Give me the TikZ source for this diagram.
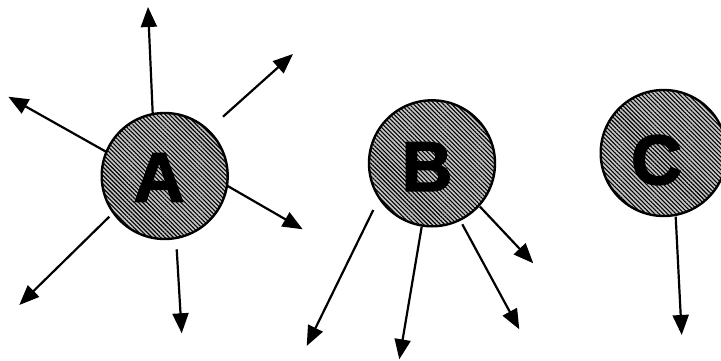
\documentclass[tikz,border=0pt]{standalone}
\usepackage{fontspec}
\newfontfamily\heavyfont{Liberation Sans}[BoldFeatures={FakeBold=2.5}]
\usetikzlibrary{arrows.meta,patterns.meta}
\begin{document}
\begin{tikzpicture}[x=1pt,y=-1pt,
  ball/.style={circle,draw=black,line width=2.4pt,minimum size=126pt,inner sep=0pt,
    preaction={fill=gray!45},
    pattern={Lines[angle=-45,distance=3pt,line width=1.1pt]},pattern color=black},
  letter/.style={inner sep=0pt,anchor=center,text=black,
    font=\heavyfont\bfseries\fontsize{70}{70}\selectfont},
  arr/.style={-{Triangle[length=20pt,width=16pt]},line width=2.2pt}]
\clip (0,0) rectangle (721,361);
\fill[white] (0,0) rectangle (721,361);

% the three bodies
\node[ball] (A) at (164.7,176) {};
\node[ball] (B) at (432,163.3) {};
\node[ball] (C) at (663.7,153) {};
\node[letter] (Aname) at (159,177.5) {A};
\node[letter] (Bname) at (427,166.7) {B};
\node[letter] (Cname) at (656.5,160) {C};

% arrows leaving A
\coordinate (a1s) at (152.7,113.3); \coordinate (a1e) at (148,7);
\coordinate (a2s) at (223,116.7);   \coordinate (a2e) at (293,54);
\coordinate (a3s) at (106,151.7);   \coordinate (a3e) at (8.3,96.7);
\coordinate (a4s) at (227.7,186);   \coordinate (a4e) at (302.7,229.3);
\coordinate (a5s) at (109.3,216.7); \coordinate (a5e) at (19.3,305);
\coordinate (a6s) at (176.7,249.3); \coordinate (a6e) at (181.7,333.3);
\foreach \i in {1,...,6} \draw[arr] (a\i s) -- (a\i e);

% arrows leaving B
\coordinate (b1s) at (373.3,210);   \coordinate (b1e) at (306.7,346);
\coordinate (b2s) at (421.7,226.7); \coordinate (b2e) at (399.3,359.3);
\coordinate (b3s) at (462.3,224.3); \coordinate (b3e) at (519.3,329.3);
\coordinate (b4s) at (480,206.7);   \coordinate (b4e) at (533.3,263.3);
\foreach \i in {1,...,4} \draw[arr] (b\i s) -- (b\i e);

% arrow leaving C
\coordinate (c1s) at (675.7,216.7); \coordinate (c1e) at (681.7,335);
\draw[arr] (c1s) -- (c1e);
\end{tikzpicture}
\end{document}
